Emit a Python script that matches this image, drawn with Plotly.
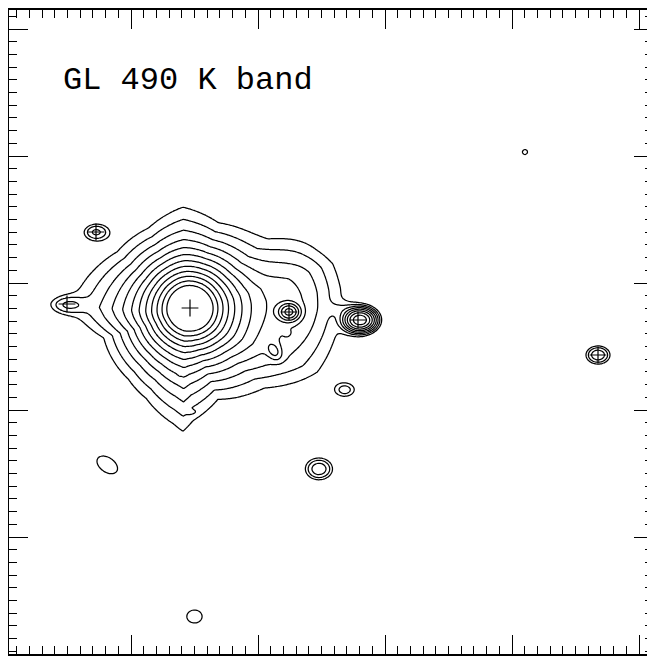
import numpy as np
import plotly.graph_objects as go

# ---------------- data (image offsets, arbitrary pixel-like units) ----------------
title_text = "GL 490 K band"

# bright nucleus: exponential core (log10 peak, units per decade)
core_x, core_y = 190.0, 308.0
core_peak, core_scale = 2.43, 26.7

# diffuse envelope: outline of the faintest contour
env_cx, env_cy = 185.0, 315.0
env_peak = 1.12
env_outline_x = [183, 217, 263, 303, 323, 332, 332, 325, 313, 263, 217, 193, 183, 173, 147, 130, 107, 80, 72, 90, 120, 150]
env_outline_y = [209, 227, 243, 257, 267, 290, 312, 343, 370, 387, 397, 420, 431, 423, 397, 377, 337, 318, 305, 276, 254, 232]

# compact / extra sources: x, y, log10 peak, sigma_x, sigma_y, tilt (deg)
src_x     = [68,   289,  360,  96,   598,  319,  194.5, 525, 345, 107, 274, 287, 180, 191, 296, 342]
src_y     = [305,  312,  320,  232,  355,  469,  616.5, 152, 390, 465, 351, 333, 373, 412, 300, 309]
src_peak  = [0.12, 1.0,  1.15, 0.25, 0.42, 0.40, 0.10,  0.1, 0.1, 0.1, 0.35, 0.05, 0.0, -0.2, 0.05, -0.35]
src_sx    = [11.0, 6.0,  8.6,  8.4,  8.6,  9.6,  11.0,  3.7, 7.4, 14.0, 4.2, 2.0, 1.5, 3.0, 22.0, 10.0]
src_sy    = [5.5,  5.0,  6.3,  5.6,  6.5,  7.7,  9.3,   3.7, 5.1, 8.8, 6.2, 2.0, 1.5, 1.5, 35.0, 5.0]
src_tilt  = [0,    0,    0,    0,    0,    0,    0,     0,   0,   35,  -30, 0,   0,   0,   0,    0]

# point sources marked with crosses
star_x = [67, 190, 289, 358, 96, 598]
star_y = [304, 308, 312, 320, 232, 355]

# contour levels (log10 intensity)
lev_start, lev_end, lev_step = 0.0, 1.65, 0.15

# ---------------- build the intensity map ----------------
gx = np.arange(8, 655, 1.5)
gy = np.arange(9, 656, 1.5)
X, Y = np.meshgrid(gx, gy)

F = 10 ** (core_peak - np.hypot(X - core_x, Y - core_y) / core_scale)

ox = np.array(env_outline_x, float) - env_cx
oy = np.array(env_outline_y, float) - env_cy
oth = np.arctan2(oy, ox)
orad = np.hypot(ox, oy)
order = np.argsort(oth)
oth, orad = oth[order], orad[order]
th = np.arctan2(Y - env_cy, X - env_cx)
R = np.interp(th, oth, orad, period=2 * np.pi)
d = np.hypot(X - env_cx, Y - env_cy) / R
F += 10 ** (env_peak * (1 - d))

for x0, y0, p, sx, sy, t in zip(src_x, src_y, src_peak, src_sx, src_sy, src_tilt):
    a = np.deg2rad(t)
    dx, dy = X - x0, Y - y0
    xr = dx * np.cos(a) + dy * np.sin(a)
    yr = -dx * np.sin(a) + dy * np.cos(a)
    F += 10 ** p * np.exp(-0.5 * ((xr / sx) ** 2 + (yr / sy) ** 2))

Z = np.log10(F + 1e-4).astype(np.float32)

# ---------------- figure ----------------
fig = go.Figure()
fig.add_trace(go.Contour(
    x=gx, y=gy, z=Z,
    autocontour=False,
    contours=dict(start=lev_start, end=lev_end, size=lev_step, coloring="lines"),
    colorscale=[[0, "black"], [1, "black"]],
    line=dict(width=1.25, color="black", smoothing=1),
    showscale=False, hoverinfo="skip",
))
fig.add_trace(go.Scatter(
    x=star_x, y=star_y, mode="markers",
    marker=dict(symbol="cross-thin", size=12, color="black",
                line=dict(width=1.2, color="black")),
    hoverinfo="skip", showlegend=False,
))

axis_common = dict(
    showgrid=False, zeroline=False, showticklabels=False,
    ticks="inside", ticklen=19, tickwidth=1.4, tickcolor="black",
    showline=True, linewidth=1.5, linecolor="black", mirror="ticks",
)
fig.update_xaxes(range=[9, 653], tick0=4, dtick=127,
                 minor=dict(ticks="inside", ticklen=8, tickwidth=1.4, tickcolor="black",
                            tick0=4, dtick=12.7, showgrid=False),
                 **axis_common)
fig.update_yaxes(range=[654, 10], tick0=29, dtick=127,
                 minor=dict(ticks="inside", ticklen=8, tickwidth=1.4, tickcolor="black",
                            tick0=29, dtick=12.7, showgrid=False),
                 **axis_common)

fig.add_annotation(x=61, y=80, xref="x", yref="y", text=title_text, showarrow=False,
                   xanchor="left", yanchor="middle",
                   font=dict(family="Liberation Mono", size=32, color="black"))

# the page body adds an 8 px offset, so the figure is 8 px smaller than the window
fig.update_layout(width=647, height=648, margin=dict(l=1, r=2, t=2, b=2),
                  plot_bgcolor="white", paper_bgcolor="white", showlegend=False)

fig.write_html("out.html")
